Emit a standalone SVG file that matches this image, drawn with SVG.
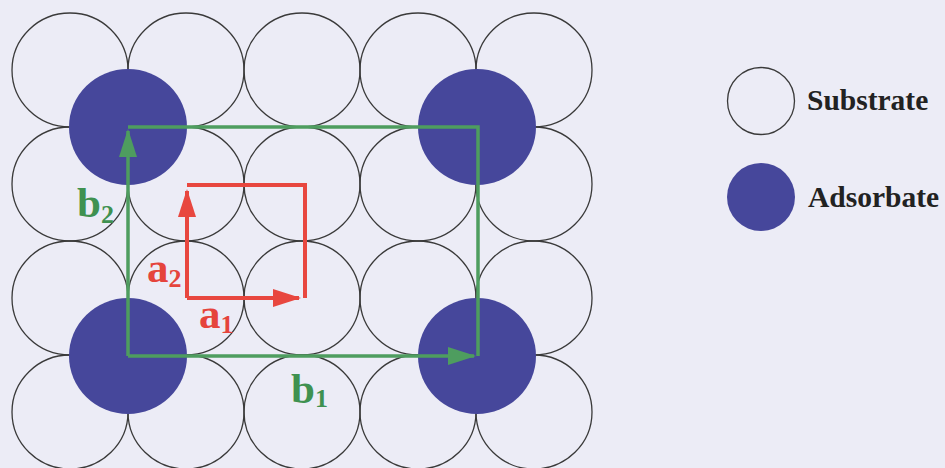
<svg xmlns="http://www.w3.org/2000/svg" width="945" height="468" viewBox="0 0 945 468">
<defs>
<style>
.sub{fill:none;stroke:#3a3a3a;stroke-width:1.3}
.ads{fill:#46479b}
.g{stroke:#4e9d5f;stroke-width:3.5;fill:none}
.r{stroke:#e8473f;stroke-width:4;fill:none}
.lbl{font-family:"Liberation Serif","Times New Roman",serif;font-weight:bold}
.lg{fill:#3f9150}
.lr{fill:#e5443c}
.leg{font-family:"Liberation Serif","Times New Roman",serif;font-weight:bold;font-size:29.5px;fill:#222}
</style>
<marker id="ag" markerUnits="userSpaceOnUse" markerWidth="28" markerHeight="20" refX="26" refY="10" orient="auto" viewBox="0 0 28 20">
<path d="M0,1 L28,10 L0,19 z" fill="#4e9d5f"/>
</marker>
<marker id="ar" markerUnits="userSpaceOnUse" markerWidth="28" markerHeight="20" refX="26" refY="10" orient="auto" viewBox="0 0 28 20">
<path d="M0,1 L28,10 L0,19 z" fill="#e8473f"/>
</marker>
</defs>
<rect width="945" height="468" fill="#ececf6"/>
<g id="substrate">
<ellipse class="sub" cx="70" cy="70" rx="58" ry="57"/>
<ellipse class="sub" cx="186" cy="70" rx="58" ry="57"/>
<ellipse class="sub" cx="302" cy="70" rx="58" ry="57"/>
<ellipse class="sub" cx="418" cy="70" rx="58" ry="57"/>
<ellipse class="sub" cx="534" cy="70" rx="58" ry="57"/>
<ellipse class="sub" cx="70" cy="184" rx="58" ry="57"/>
<ellipse class="sub" cx="186" cy="184" rx="58" ry="57"/>
<ellipse class="sub" cx="302" cy="184" rx="58" ry="57"/>
<ellipse class="sub" cx="418" cy="184" rx="58" ry="57"/>
<ellipse class="sub" cx="534" cy="184" rx="58" ry="57"/>
<ellipse class="sub" cx="70" cy="298" rx="58" ry="57"/>
<ellipse class="sub" cx="186" cy="298" rx="58" ry="57"/>
<ellipse class="sub" cx="302" cy="298" rx="58" ry="57"/>
<ellipse class="sub" cx="418" cy="298" rx="58" ry="57"/>
<ellipse class="sub" cx="534" cy="298" rx="58" ry="57"/>
<ellipse class="sub" cx="70" cy="412" rx="58" ry="57"/>
<ellipse class="sub" cx="186" cy="412" rx="58" ry="57"/>
<ellipse class="sub" cx="302" cy="412" rx="58" ry="57"/>
<ellipse class="sub" cx="418" cy="412" rx="58" ry="57"/>
<ellipse class="sub" cx="534" cy="412" rx="58" ry="57"/>
</g>
<g id="adsorbates">
<ellipse class="ads" cx="128" cy="127" rx="59" ry="58"/>
<ellipse class="ads" cx="477" cy="127" rx="59" ry="58"/>
<ellipse class="ads" cx="128" cy="356" rx="59" ry="58"/>
<ellipse class="ads" cx="477" cy="356" rx="59" ry="58"/>
</g>
<g id="connectors">
<path class="g" d="M128,127 L478,127 L478,356"/>
<line class="g" x1="128" y1="356" x2="128" y2="131" marker-end="url(#ag)"/>
<line class="g" x1="128" y1="356" x2="474" y2="356" marker-end="url(#ag)"/>
<path class="r" d="M187,185 L305,185 L305,298"/>
<line class="r" x1="187" y1="298" x2="187" y2="191" marker-end="url(#ar)"/>
<line class="r" x1="187" y1="298" x2="299" y2="298" marker-end="url(#ar)"/>
</g>
<g id="labels">
<text class="lbl lg" x="77" y="217" font-size="43">b<tspan font-size="26" dy="6">2</tspan></text>
<text class="lbl lr" x="147" y="282" font-size="43">a<tspan font-size="26" dy="5">2</tspan></text>
<text class="lbl lr" x="199" y="328" font-size="43">a<tspan font-size="26" dy="5">1</tspan></text>
<text class="lbl lg" x="291" y="403" font-size="43">b<tspan font-size="26" dy="4">1</tspan></text>
</g>
<g id="legend-substrate">
<circle class="sub" cx="761" cy="101" r="33.5"/>
<text class="leg" x="807" y="110">Substrate</text>
</g>
<g id="legend-adsorbate">
<circle class="ads" cx="761" cy="197" r="34"/>
<text class="leg" x="808" y="207">Adsorbate</text>
</g>
</svg>
